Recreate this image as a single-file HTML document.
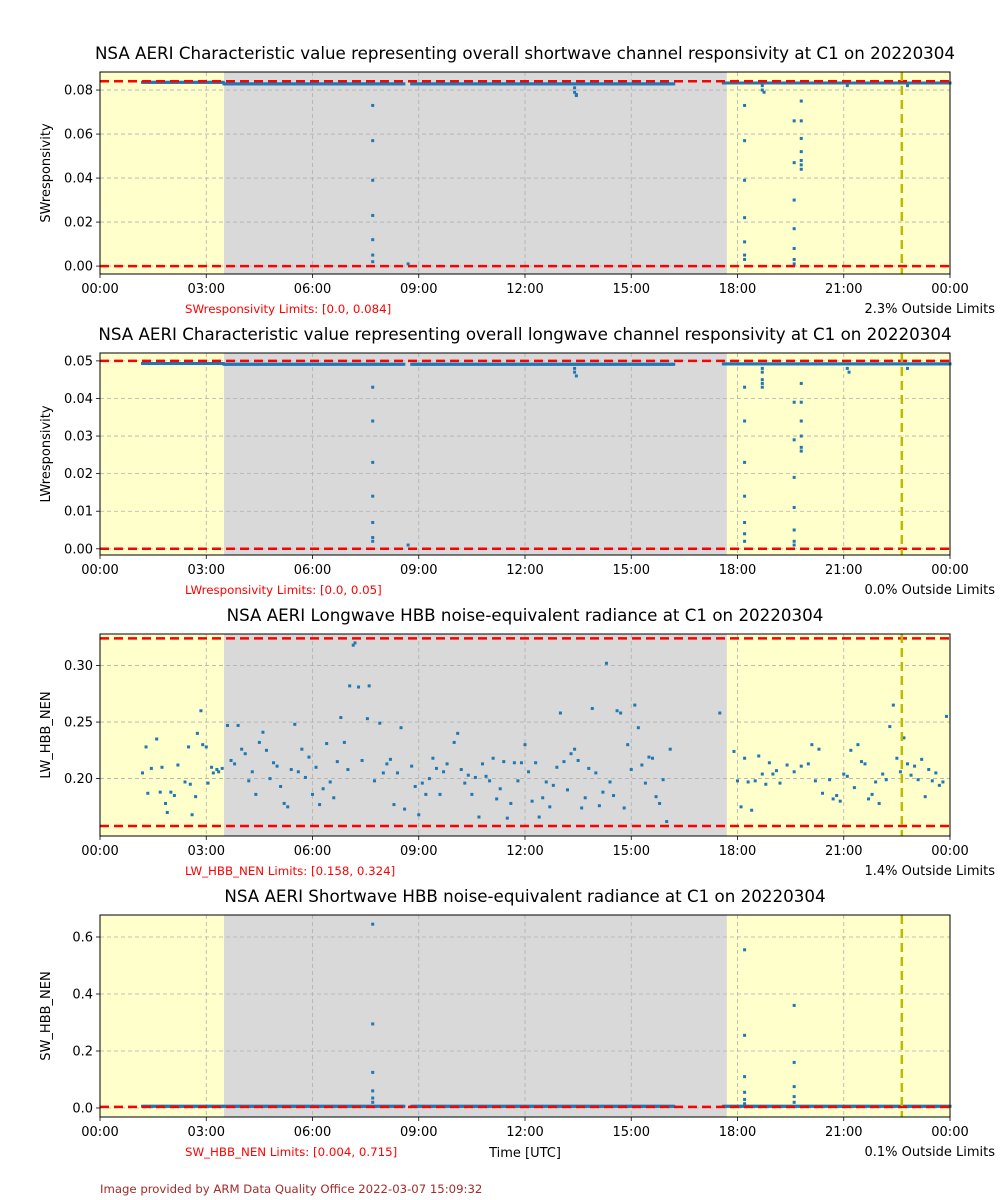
<!DOCTYPE html>
<html><head><meta charset="utf-8">
<style>
html,body{margin:0;padding:0;background:#fff;width:1000px;height:1200px;overflow:hidden;font-family:"DejaVu Sans","Liberation Sans",sans-serif;}
svg text{font-family:"DejaVu Sans","Liberation Sans",sans-serif;}
</style></head>
<body>
<svg id="c" width="1000" height="1200" xmlns="http://www.w3.org/2000/svg"></svg>
<script>
// ---- data ----
const xTickLabels = ["00:00","03:00","06:00","09:00","12:00","15:00","18:00","21:00","00:00"];
const grayStart = 3.5, grayEnd = 17.7, markerHour = 22.64;

// panel 1
const p1Title = "NSA AERI Characteristic value representing overall shortwave channel responsivity at C1 on 20220304";
const p1Ticks = [0, 0.02, 0.04, 0.06, 0.08];
const p1TickLabels = ["0.00","0.02","0.04","0.06","0.08"];
const p1Limits = [0.0, 0.084];
const p1RunStart = [1.2, 3.5, 8.8, 17.6];
const p1RunEnd = [3.5, 8.6, 16.2, 24.0];
const p1RunValue = [0.0835, 0.0828, 0.0828, 0.0832];
const p1T = [7.7,7.7,7.7,7.7,7.7,7.7,7.7,8.7,13.4,13.4,13.45,13.45,18.2,18.2,18.2,18.2,18.2,18.2,18.2,18.7,18.7,18.75,19.6,19.6,19.6,19.6,19.6,19.6,19.6,19.8,19.8,19.8,19.8,19.8,19.8,19.8,21.1,22.8];
const p1V = [0.073,0.057,0.039,0.023,0.012,0.005,0.002,0.001,0.081,0.079,0.078,0.0775,0.073,0.057,0.039,0.022,0.011,0.005,0.003,0.082,0.080,0.079,0.066,0.047,0.030,0.017,0.008,0.003,0.001,0.075,0.066,0.058,0.052,0.048,0.046,0.044,0.082,0.082];

// panel 2
const p2Title = "NSA AERI Characteristic value representing overall longwave channel responsivity at C1 on 20220304";
const p2Ticks = [0, 0.01, 0.02, 0.03, 0.04, 0.05];
const p2TickLabels = ["0.00","0.01","0.02","0.03","0.04","0.05"];
const p2Limits = [0.0, 0.05];
const p2RunStart = [1.2, 3.5, 8.8, 17.6];
const p2RunEnd = [3.5, 8.6, 16.2, 24.0];
const p2RunValue = [0.0493, 0.0491, 0.0491, 0.0492];
const p2T = [7.7,7.7,7.7,7.7,7.7,7.7,7.7,8.7,13.4,13.4,13.45,18.2,18.2,18.2,18.2,18.2,18.2,18.2,18.7,18.7,18.7,18.7,18.7,19.6,19.6,19.6,19.6,19.6,19.6,19.6,19.8,19.8,19.8,19.8,19.8,19.8,21.1,21.15,22.8];
const p2V = [0.043,0.034,0.023,0.014,0.007,0.003,0.002,0.001,0.048,0.047,0.046,0.043,0.034,0.023,0.014,0.007,0.004,0.002,0.048,0.047,0.045,0.044,0.043,0.039,0.029,0.019,0.011,0.005,0.002,0.001,0.044,0.039,0.034,0.030,0.027,0.026,0.048,0.047,0.048];

// panel 3
const p3Title = "NSA AERI Longwave HBB noise-equivalent radiance at C1 on 20220304";
const p3Ticks = [0.20, 0.25, 0.30];
const p3TickLabels = ["0.20","0.25","0.30"];
const p3Limits = [0.158, 0.324];
const p3T = [1.2,1.3,1.35,1.45,1.6,1.7,1.75,1.85,1.9,2.0,2.1,2.2,2.4,2.5,2.55,2.6,2.7,2.75,2.85,2.9,3.0,3.05,3.15,3.2,3.3,3.35,3.45,3.6,3.7,3.8,3.9,4.0,4.1,4.2,4.3,4.4,4.5,4.6,4.7,4.8,4.9,5.0,5.1,5.2,5.3,5.4,5.5,5.6,5.7,5.8,5.9,6.0,6.1,6.2,6.3,6.4,6.5,6.6,6.7,6.8,6.9,7.0,7.05,7.15,7.2,7.3,7.4,7.55,7.6,7.75,7.9,8.0,8.1,8.2,8.3,8.4,8.5,8.6,8.8,8.9,9.0,9.1,9.2,9.3,9.4,9.5,9.6,9.7,9.8,10.0,10.1,10.2,10.3,10.4,10.5,10.6,10.7,10.8,10.9,11.0,11.1,11.2,11.3,11.4,11.5,11.6,11.7,11.8,11.9,12.0,12.1,12.2,12.3,12.4,12.5,12.6,12.7,12.8,12.9,13.0,13.1,13.2,13.3,13.4,13.5,13.6,13.7,13.8,13.9,14.0,14.1,14.2,14.3,14.4,14.5,14.6,14.7,14.8,14.9,15.0,15.1,15.2,15.3,15.4,15.5,15.6,15.7,15.8,15.9,16.0,16.1,17.5,17.9,18.0,18.1,18.2,18.3,18.4,18.5,18.6,18.7,18.8,18.9,19.0,19.1,19.2,19.4,19.6,19.8,20.0,20.1,20.2,20.3,20.4,20.6,20.7,20.8,20.9,21.0,21.1,21.2,21.3,21.4,21.5,21.6,21.7,21.8,21.9,22.0,22.1,22.2,22.3,22.4,22.5,22.6,22.7,22.8,22.9,23.0,23.1,23.2,23.3,23.4,23.5,23.6,23.7,23.8,23.9];
const p3V = [0.205,0.228,0.187,0.209,0.235,0.188,0.210,0.178,0.170,0.188,0.185,0.212,0.197,0.228,0.195,0.168,0.184,0.240,0.260,0.230,0.228,0.196,0.210,0.205,0.208,0.206,0.209,0.247,0.216,0.213,0.247,0.226,0.222,0.198,0.206,0.186,0.232,0.241,0.225,0.200,0.214,0.211,0.193,0.178,0.175,0.208,0.248,0.206,0.226,0.201,0.219,0.186,0.210,0.177,0.191,0.231,0.197,0.183,0.215,0.254,0.232,0.208,0.282,0.318,0.320,0.281,0.216,0.253,0.282,0.198,0.249,0.205,0.213,0.217,0.177,0.205,0.245,0.173,0.211,0.193,0.168,0.196,0.186,0.200,0.218,0.209,0.186,0.206,0.213,0.232,0.240,0.208,0.196,0.203,0.186,0.201,0.166,0.213,0.202,0.198,0.218,0.182,0.191,0.215,0.165,0.178,0.214,0.198,0.214,0.230,0.206,0.180,0.214,0.166,0.183,0.197,0.175,0.194,0.210,0.258,0.215,0.190,0.222,0.226,0.216,0.174,0.183,0.209,0.262,0.205,0.176,0.188,0.302,0.197,0.185,0.260,0.258,0.174,0.230,0.208,0.265,0.245,0.212,0.196,0.219,0.218,0.184,0.178,0.199,0.162,0.226,0.258,0.224,0.198,0.175,0.218,0.197,0.172,0.198,0.220,0.204,0.195,0.214,0.204,0.207,0.196,0.212,0.206,0.211,0.213,0.230,0.198,0.226,0.187,0.199,0.182,0.185,0.180,0.204,0.202,0.225,0.192,0.230,0.215,0.213,0.182,0.186,0.197,0.178,0.204,0.199,0.246,0.265,0.218,0.206,0.236,0.213,0.203,0.211,0.199,0.217,0.184,0.208,0.198,0.205,0.194,0.197,0.255,0.210,0.222,0.195,0.174,0.206];

// panel 4
const p4Title = "NSA AERI Shortwave HBB noise-equivalent radiance at C1 on 20220304";
const p4Ticks = [0, 0.2, 0.4, 0.6];
const p4TickLabels = ["0.0","0.2","0.4","0.6"];
const p4Limits = [0.004, 0.715];
const p4RunStart = [1.2, 3.5, 8.8, 17.6];
const p4RunEnd = [3.5, 8.6, 16.2, 24.0];
const p4RunValue = [0.006, 0.006, 0.006, 0.006];
const p4T = [7.7,7.7,7.7,7.7,7.7,7.7,18.2,18.2,18.2,18.2,18.2,18.2,19.6,19.6,19.6,19.6,19.6];
const p4V = [0.645,0.295,0.125,0.06,0.035,0.02,0.555,0.255,0.11,0.055,0.03,0.015,0.36,0.16,0.075,0.04,0.02];

const panels = [
 {key:"sw-responsivity", title:p1Title, ylabel:"SWresponsivity", top:72, bot:274, ymin:-0.0036, ymax:0.0882, ticks:p1Ticks, tl:p1TickLabels, lim:p1Limits, rs:p1RunStart, re:p1RunEnd, rv:p1RunValue, t:p1T, v:p1V, limText:"SWresponsivity Limits: [0.0, 0.084]", pct:"2.3% Outside Limits"},
 {key:"lw-responsivity", title:p2Title, ylabel:"LWresponsivity", top:353, bot:555, ymin:-0.00165, ymax:0.0521, ticks:p2Ticks, tl:p2TickLabels, lim:p2Limits, rs:p2RunStart, re:p2RunEnd, rv:p2RunValue, t:p2T, v:p2V, limText:"LWresponsivity Limits: [0.0, 0.05]", pct:"0.0% Outside Limits"},
 {key:"lw-hbb-nen", title:p3Title, ylabel:"LW_HBB_NEN", top:634, bot:836, ymin:0.1492, ymax:0.3279, ticks:p3Ticks, tl:p3TickLabels, lim:p3Limits, rs:[], re:[], rv:[], t:p3T, v:p3V, limText:"LW_HBB_NEN Limits: [0.158, 0.324]", pct:"1.4% Outside Limits"},
 {key:"sw-hbb-nen", title:p4Title, ylabel:"SW_HBB_NEN", top:915, bot:1117, ymin:-0.0316, ymax:0.6772, ticks:p4Ticks, tl:p4TickLabels, lim:p4Limits, rs:p4RunStart, re:p4RunEnd, rv:p4RunValue, t:p4T, v:p4V, limText:"SW_HBB_NEN Limits: [0.004, 0.715]", pct:"0.1% Outside Limits"}
];

const svg = document.getElementById('c');
const NS = "http://www.w3.org/2000/svg";
const X0 = 100, X1 = 950;
const xs = h => X0 + (X1 - X0) * h / 24;
function mk(tag, attrs, parent){ const e=document.createElementNS(NS,tag); for(const k in attrs) e.setAttribute(k, attrs[k]); (parent||svg).appendChild(e); return e; }

panels.forEach((p, pi) => {
  const ys = v => p.bot - (v - p.ymin) / (p.ymax - p.ymin) * (p.bot - p.top);
  const g = mk('g', {});
  
  
  const y1 = mk('rect', {x:X0, y:p.top, width:xs(grayStart)-X0, height:p.bot-p.top, fill:'#ffffcc'}, g);
  
  
  const gr = mk('rect', {x:xs(grayStart), y:p.top, width:xs(grayEnd)-xs(grayStart), height:p.bot-p.top, fill:'#d9d9d9'}, g);
  
  
  const y2 = mk('rect', {x:xs(grayEnd), y:p.top, width:X1-xs(grayEnd), height:p.bot-p.top, fill:'#ffffcc'}, g);
  
  
  for (let i=0;i<=8;i++){
    const x = xs(i*3);
    const l = mk('line', {x1:x, x2:x, y1:p.top, y2:p.bot, stroke:'#b0b0b0', 'stroke-width':0.8, 'stroke-dasharray':'4,3'}, g);
    
    
    const tk = mk('line', {x1:x, x2:x, y1:p.bot, y2:p.bot+4, stroke:'#000', 'stroke-width':0.8}, g);
    
    
    const tx = mk('text', {x:x, y:p.bot+19, 'text-anchor':'middle', 'font-size':13, fill:'#000'}, g);
    tx.textContent = xTickLabels[i];
    
    
  }
  p.ticks.forEach((tv, ti) => {
    const y = ys(tv);
    const l = mk('line', {x1:X0, x2:X1, y1:y, y2:y, stroke:'#b0b0b0', 'stroke-width':0.8, 'stroke-dasharray':'4,3'}, g);
    
    
    const tk = mk('line', {x1:X0-4, x2:X0, y1:y, y2:y, stroke:'#000', 'stroke-width':0.8}, g);
    
    
    const tx = mk('text', {x:X0-7, y:y+4.5, 'text-anchor':'end', 'font-size':13, fill:'#000'}, g);
    tx.textContent = p.tl[ti];
    
    
  });
  for (let r=0;r<p.rs.length;r++){
    for (let h=p.rs[r]; h<=p.re[r]+1e-9; h+=0.04){
      const d = mk('rect', {x:xs(h)-1.5, y:ys(p.rv[r])-1.5, width:3, height:3, fill:'#1f77b4'}, g);
      
      
    }
  }
  for (let i=0;i<p.t.length;i++){
    const d = mk('rect', {x:xs(p.t[i])-1.5, y:ys(p.v[i])-1.5, width:3, height:3, fill:'#1f77b4'}, g);
    
    
  }
  p.lim.forEach(lv => {
    const y = ys(lv);
    if (y < p.top || y > p.bot) return;
    const l = mk('line', {x1:X0, x2:X1, y1:y, y2:y, stroke:'#ff0000', 'stroke-width':2.5, 'stroke-dasharray':'9,5'}, g);
    
    
  });
  const m = mk('line', {x1:xs(markerHour), x2:xs(markerHour), y1:p.top, y2:p.bot, stroke:'#bbbb00', 'stroke-width':2.5, 'stroke-dasharray':'9,5'}, g);
  
  
  const f = mk('rect', {x:X0, y:p.top, width:X1-X0, height:p.bot-p.top, fill:'none', stroke:'#000', 'stroke-width':1}, g);
  
  
  const t = mk('text', {x:525, y:p.top-13, 'text-anchor':'middle', 'font-size':16.7, fill:'#000'}, g);
  t.textContent = p.title;
  
  
  const yl = mk('text', {x:0, y:0, 'text-anchor':'middle', 'font-size':13, fill:'#000', transform:`translate(50,${(p.top+p.bot)/2}) rotate(-90)`}, g);
  yl.textContent = p.ylabel;
  
  
  const lt = mk('text', {x:185, y:p.bot+39, 'font-size':11.8, fill:'#ff0000'}, g);
  lt.textContent = p.limText;
  
  
  const pt = mk('text', {x:995, y:p.bot+39, 'text-anchor':'end', 'font-size':13, fill:'#000'}, g);
  pt.textContent = p.pct;
  
  
});

const xt = mk('text', {x:525, y:1157, 'text-anchor':'middle', 'font-size':13, fill:'#000'});
xt.textContent = "Time [UTC]";


const ft = mk('text', {x:100, y:1193, 'font-size':11.7, fill:'#a52a2a'});
ft.textContent = "Image provided by ARM Data Quality Office 2022-03-07 15:09:32";


</script>
</body></html>
